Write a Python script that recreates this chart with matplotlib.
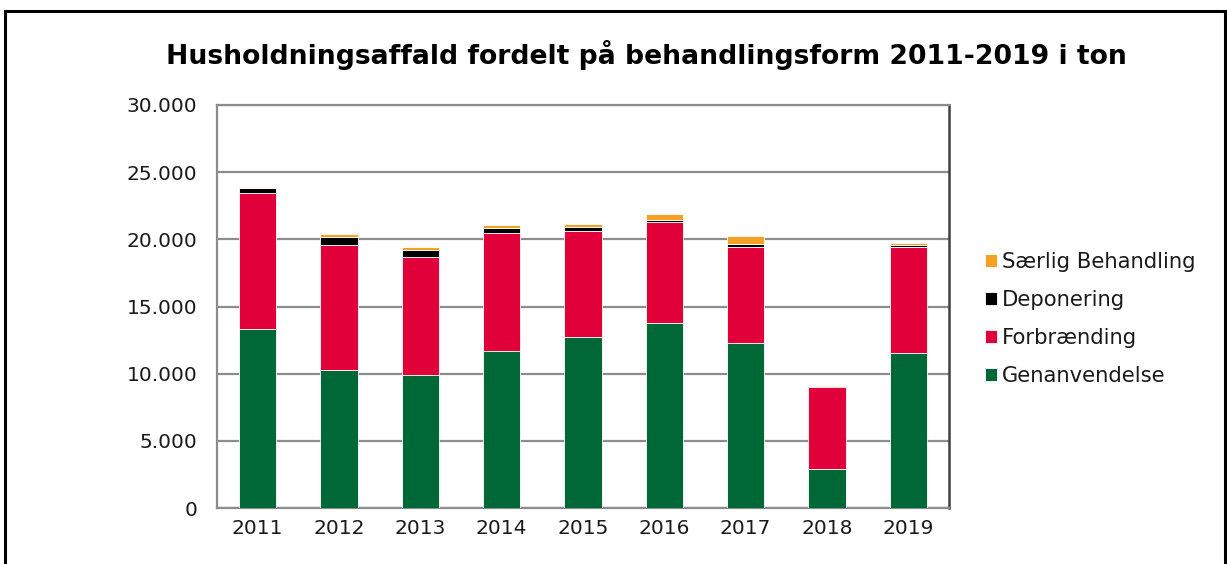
import matplotlib
matplotlib.use("Agg")
import matplotlib.pyplot as plt
from matplotlib.patches import Rectangle
from matplotlib.ticker import FuncFormatter
import numpy as np

years = ["2011", "2012", "2013", "2014", "2015", "2016", "2017", "2018", "2019"]
genanvendelse = [13300, 10280, 9880, 11690, 12730, 13770, 12260, 2910, 11520]
forbraending = [10120, 9320, 8780, 8780, 7910, 7540, 7170, 6120, 7880]
deponering = [370, 590, 570, 390, 300, 130, 200, 30, 200]
saerlig = [120, 200, 200, 200, 220, 470, 640, 80, 120]

series = [
    ("Genanvendelse", genanvendelse, "#006837"),
    ("Forbrænding", forbraending, "#E2003B"),
    ("Deponering", deponering, "#000000"),
    ("Særlig Behandling", saerlig, "#F4A024"),
]

fig = plt.figure(figsize=(12.27, 5.64), dpi=100)
fig.patches.append(Rectangle((5/1227, -0.1), 1220/1227, 1.1 - 11/564,
                             transform=fig.transFigure, fill=False,
                             edgecolor="black", linewidth=2.2))

ax = fig.add_axes([217/1227, 1 - 508/564, (949 - 217)/1227, (508 - 105)/564])
x = np.arange(len(years))
bottom = np.zeros(len(years))
handles = []
for name, vals, col in series:
    b = ax.bar(x, vals, 0.455, bottom=bottom, color=col, edgecolor="white",
               linewidth=0.6, label=name, zorder=3)
    handles.append(b)
    bottom += np.array(vals)

ax.set_xlim(-0.5, len(years) - 0.5)
ax.set_ylim(0, 30000)
ax.set_yticks(np.arange(0, 30001, 5000))
ax.yaxis.set_major_formatter(FuncFormatter(lambda v, p: f"{int(v):,}".replace(",", ".")))
ax.set_xticks(x)
ax.set_xticklabels(years)
ax.grid(axis="y", color="#8c8c8c", linewidth=1.6, zorder=0)
ax.tick_params(length=0, labelsize=14.5, colors="#1a1a1a", pad=8)
ax.tick_params(axis="y", pad=14)
for s in ["left", "bottom", "top"]:
    ax.spines[s].set_color("#8c8c8c")
    ax.spines[s].set_linewidth(1.6)
ax.spines["right"].set_color("#404040")
ax.spines["right"].set_linewidth(1.8)

fig.text(0.527, 1 - 55/564, "Husholdningsaffald fordelt på behandlingsform 2011-2019 i ton",
         ha="center", va="center", fontsize=19.2, fontweight="bold")

leg = fig.legend(handles[::-1], [s[0] for s in series][::-1],
                 loc="center left", bbox_to_anchor=(966/1227, 1 - 319/564),
                 frameon=False, fontsize=15.2, handlelength=0.55, handleheight=0.55,
                 handletextpad=0.25, labelspacing=0.85)
for t in leg.get_texts():
    t.set_color("#1a1a1a")

fig.savefig("out.png", dpi=100)
